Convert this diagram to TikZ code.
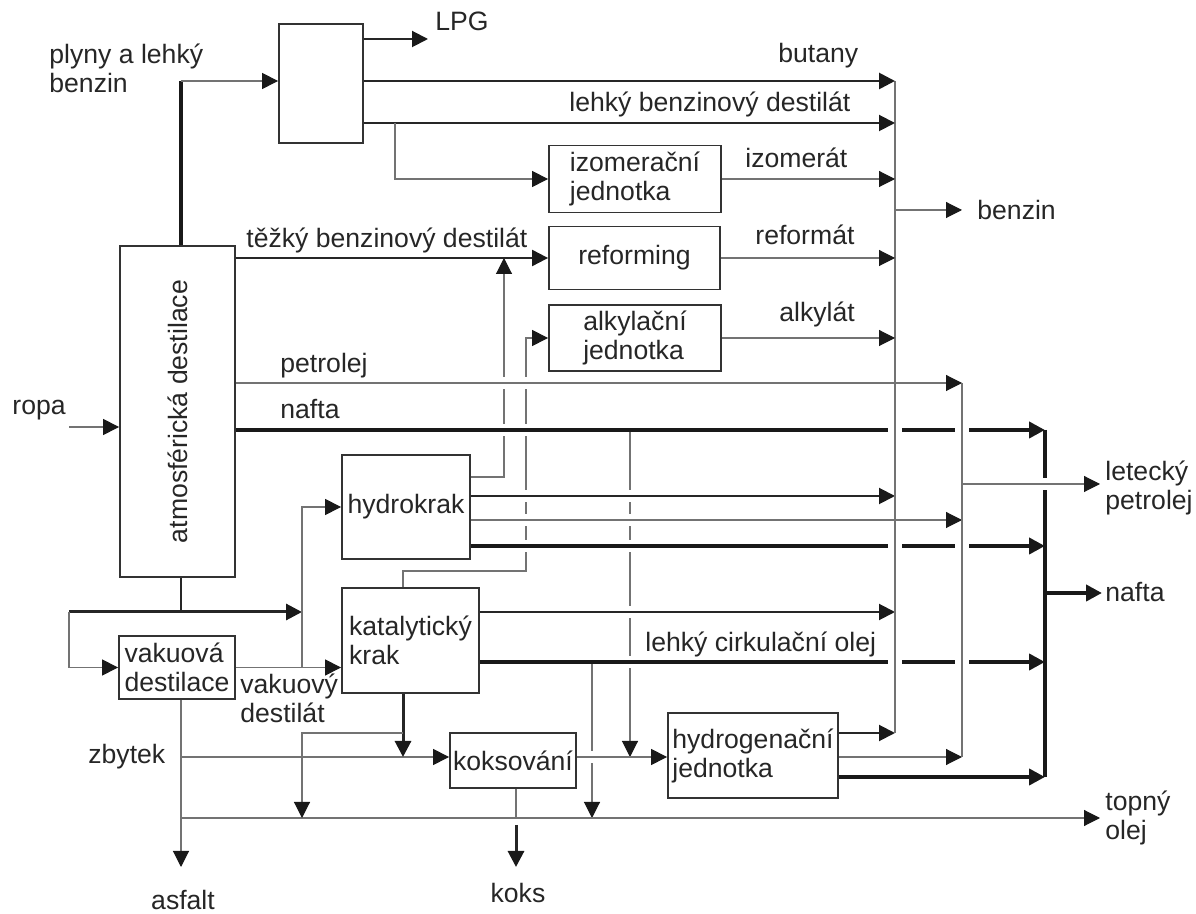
\documentclass[tikz,border=0pt]{standalone}
\usepackage{fontspec}
\setmainfont{Liberation Sans}
\usetikzlibrary{arrows.meta}

\begin{document}
\begin{tikzpicture}[x=0.5pt,y=-0.5pt,
  font=\fontsize{13.3}{14.5}\selectfont,text=black!85,
  plant/.style={draw=black!80,line width=0.9pt,inner sep=0pt,align=left},
  lab/.style={inner sep=0pt,align=left,anchor=base west},
  fine/.style={draw=black!55,line width=0.55pt},
  mid/.style={draw=black!85,line width=1pt},
  heavy/.style={draw=black!90,line width=2.4pt},
  arrowed/.style={-{Triangle[length=8pt,width=8pt,color=black!90]}}]
\useasboundingbox (0,0) rectangle (1196,914);

\node[plant,minimum width=42pt,minimum height=59.5pt] at (321,83.5) (sep) {};
\node[plant,minimum width=57.5pt,minimum height=165.5pt] at (177.5,411.5) (atm) {};
\node[rotate=90] at (atm) (atmtext) {atmosférická destilace};
\node[plant,minimum width=86pt,minimum height=33.5pt] at (635,179) (izo) {izomerační\\jednotka};
\node[plant,minimum width=85.5pt,minimum height=31.5pt] at (634.5,258) (ref) {reforming};
\node[plant,minimum width=86pt,minimum height=33pt] at (635,338) (alk) {alkylační\\jednotka};
\node[plant,minimum width=64pt,minimum height=52pt] at (406,507) (hk) {hydrokrak};
\node[plant,minimum width=68.5pt,minimum height=52.5pt] at (410.5,640.5) (kk) {katalytický\\krak};
\node[plant,minimum width=58pt,minimum height=31.5pt] at (177,667.5) (vak) {vakuová\\destilace};
\node[plant,minimum width=63pt,minimum height=27.5pt] at (513,760.5) (kok) {koksování};
\node[plant,minimum width=85pt,minimum height=42.5pt] at (753,755.5) (hyd) {hydrogenační\\jednotka};

\node[lab] at (49,93) (gas) {plyny a lehký\\benzin};
\node[lab] at (435,31) (lpg) {LPG};
\node[lab] at (778,63) (but) {butany};
\node[lab] at (569,112) (lbd) {lehký benzinový destilát};
\node[lab] at (745,168) (izt) {izomerát};
\node[lab] at (246,248) (tbd) {těžký benzinový destilát};
\node[lab] at (755,245) (reft) {reformát};
\node[lab] at (779,322) (alkt) {alkylát};
\node[lab] at (977,220) (benz) {benzin};
\node[lab] at (280,373) (petr) {petrolej};
\node[lab] at (280,419) (naf) {nafta};
\node[lab] at (12,415) (ropa) {ropa};
\node[lab] at (1105,510) (let) {letecký\\petrolej};
\node[lab] at (1105,602) (nafout) {nafta};
\node[lab] at (645,652) (lco) {lehký cirkulační olej};
\node[lab] at (240,723) (vd) {vakuový\\destilát};
\node[lab] at (88,764) (zb) {zbytek};
\node[lab] at (1105,840) (top) {topný\\olej};
\node[lab,anchor=base] at (183,910) (asf) {asfalt};
\node[lab,anchor=base] at (518,903) (koks) {koks};

\draw[fine,arrowed] (hk.east |- 0,477) -- (504,477) -- (504,0 |- ref.west);
\draw[fine,arrowed] (kk.north -| 403,0) -- (403,571) -- (526,571) -- (alk.west -| 526,0) -- (alk.west);
\draw[fine,arrowed] (630,430) -- (630,757);
\draw[fine,arrowed] (592,662) -- (592,818);
\draw[heavy] (1045,430) -- (1045,777);
\foreach \x/\y in {504/383,504/430,526/383,526/430,526/496,526/520,526/546,630/496,630/520,630/546,630/612,630/662,592/757,1045/484}
  \fill[white] (\x-3,\y-6) rectangle (\x+3,\y+6);

\draw[fine,arrowed] (atm.east |- 0,383) -- (962,383);
\draw[heavy,arrowed] (atm.east |- 0,430) -- (1045,430);
\draw[mid,arrowed] (hk.east |- 0,496) -- (895,496);
\draw[fine,arrowed] (hk.east |- 0,520) -- (962,520);
\draw[heavy,arrowed] (hk.east |- 0,546) -- (1045,546);
\draw[mid,arrowed] (kk.east |- 0,612) -- (895,612);
\draw[heavy,arrowed] (kk.east |- 0,662) -- (1045,662);
\draw[fine,arrowed] (181,757) -- (kok.west |- 0,757);
\draw[fine,arrowed] (kok.east |- 0,757) -- (hyd.west |- 0,757);
\draw[fine,arrowed] (962,484) -- (1100,484);
\draw[mid,arrowed] (hyd.east |- 0,733) -- (895,733);
\draw[fine,arrowed] (hyd.east |- 0,757) -- (962,757);
\draw[heavy,arrowed] (hyd.east |- 0,777) -- (1045,777);
\foreach \x in {895,962}
  \foreach \y in {430,546,662}
    \fill[white] (\x-7,\y-4) rectangle (\x+7,\y+4);

\draw[fine] (895,81) -- (895,733);
\draw[fine] (962,383) -- (962,757);
\draw[fine,arrowed] (895,210) -- (962,210);

\draw[mid,arrowed] (sep.east |- 0,39) -- (428,39);
\draw[heavy] (atm.north -| 181,0) -- (181,81);
\draw[fine,arrowed] (181,81) -- (sep.west |- 0,81);
\draw[mid,arrowed,line width=1.4pt] (sep.east |- 0,81) -- (895,81);
\draw[mid,arrowed] (sep.east |- 0,123) -- (895,123);
\draw[fine,arrowed] (395,123) -- (395,179) -- (izo.west);
\draw[fine,arrowed] (izo.east) -- (895,179);
\draw[mid,arrowed] (atm.east |- 0,258) -- (ref.west);
\draw[fine,arrowed] (ref.east) -- (895,258);
\draw[fine,arrowed] (alk.east) -- (895,338);

\draw[fine,arrowed] (69,427) -- (atm.west |- 0,427);
\draw[mid] (atm.south -| 181,0) -- (181,612);
\draw[mid,arrowed,line width=1.5pt] (69,612) -- (302,612);
\draw[fine,arrowed] (69,612) -- (69,667.5) -- (vak.west);
\draw[fine,arrowed] (vak.east) -- (kk.west |- vak.east);
\draw[fine,arrowed] (302,0 |- vak.east) -- (302,0 |- hk.west) -- (hk.west);
\draw[fine,arrowed] (vak.south -| 181,0) -- (181,867);
\draw[fine,arrowed] (181,818) -- (1100,818);
\draw[mid,arrowed,line width=1.5pt] (kk.south -| 403,0) -- (403,757);
\draw[fine,arrowed] (403,733) -- (302,733) -- (302,818);
\draw[fine] (kok.south -| 516,0) -- (516,818);
\draw[mid,arrowed,line width=1.5pt] (516,825) -- (516,867);
\draw[heavy,arrowed] (1045,593) -- (1102,593);
\end{tikzpicture}
\end{document}
